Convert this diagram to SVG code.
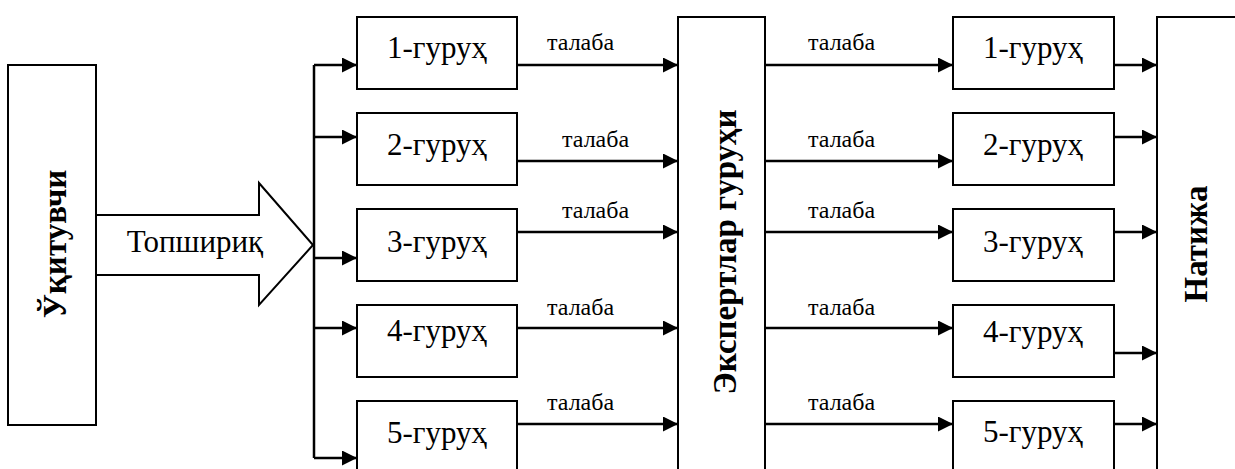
<svg xmlns="http://www.w3.org/2000/svg" width="1235" height="469" viewBox="0 0 1235 469">
<defs>
<marker id="ah" markerUnits="userSpaceOnUse" markerWidth="16" markerHeight="16" refX="15" refY="7.5" orient="auto">
<path d="M0,0 L15,7.5 L0,15 z" fill="#000"/>
</marker>
</defs>
<rect width="1235" height="469" fill="#fff"/>
<g id="teacher">
<rect x="8" y="65" width="88" height="360" fill="#fff" stroke="#000" stroke-width="2"/>
<text font-family="Liberation Serif" font-size="33" font-weight="bold" text-anchor="middle" transform="translate(66,244) rotate(-90)">Ўқитувчи</text>
</g>
<g id="task">
<polygon points="96,215 259,215 259,183 313,245 259,305 259,275 96,275" fill="#fff" stroke="#000" stroke-width="2"/>
<text font-family="Liberation Serif" font-size="31" text-anchor="middle" x="195" y="252">Топшириқ</text>
</g>
<g id="lg1"><rect x="357" y="17" width="160" height="72" fill="#fff" stroke="#000" stroke-width="2"/><text font-family="Liberation Serif" font-size="31" text-anchor="middle" x="437" y="58">1-гуруҳ</text></g>
<g id="lg2"><rect x="357" y="113" width="160" height="72" fill="#fff" stroke="#000" stroke-width="2"/><text font-family="Liberation Serif" font-size="31" text-anchor="middle" x="437" y="155">2-гуруҳ</text></g>
<g id="lg3"><rect x="357" y="209" width="160" height="72" fill="#fff" stroke="#000" stroke-width="2"/><text font-family="Liberation Serif" font-size="31" text-anchor="middle" x="437" y="252">3-гуруҳ</text></g>
<g id="lg4"><rect x="357" y="305" width="160" height="72" fill="#fff" stroke="#000" stroke-width="2"/><text font-family="Liberation Serif" font-size="31" text-anchor="middle" x="437" y="341">4-гуруҳ</text></g>
<g id="lg5"><rect x="357" y="401" width="160" height="72" fill="#fff" stroke="#000" stroke-width="2"/><text font-family="Liberation Serif" font-size="31" text-anchor="middle" x="437" y="443">5-гуруҳ</text></g>
<g id="experts">
<rect x="678" y="17" width="87" height="470" fill="#fff" stroke="#000" stroke-width="2"/>
<text font-family="Liberation Serif" font-size="33" font-weight="bold" text-anchor="middle" transform="translate(736,252) rotate(-90)">Экспертлар гуруҳи</text>
</g>
<g id="rg1"><rect x="953" y="17" width="161" height="72" fill="#fff" stroke="#000" stroke-width="2"/><text font-family="Liberation Serif" font-size="31" text-anchor="middle" x="1033" y="58">1-гуруҳ</text></g>
<g id="rg2"><rect x="953" y="113" width="161" height="72" fill="#fff" stroke="#000" stroke-width="2"/><text font-family="Liberation Serif" font-size="31" text-anchor="middle" x="1033" y="155">2-гуруҳ</text></g>
<g id="rg3"><rect x="953" y="209" width="161" height="72" fill="#fff" stroke="#000" stroke-width="2"/><text font-family="Liberation Serif" font-size="31" text-anchor="middle" x="1033" y="252">3-гуруҳ</text></g>
<g id="rg4"><rect x="953" y="305" width="161" height="72" fill="#fff" stroke="#000" stroke-width="2"/><text font-family="Liberation Serif" font-size="31" text-anchor="middle" x="1033" y="342">4-гуруҳ</text></g>
<g id="rg5"><rect x="953" y="401" width="161" height="72" fill="#fff" stroke="#000" stroke-width="2"/><text font-family="Liberation Serif" font-size="31" text-anchor="middle" x="1033" y="442">5-гуруҳ</text></g>
<g id="result">
<rect x="1157" y="17" width="100" height="470" fill="#fff" stroke="#000" stroke-width="2"/>
<text font-family="Liberation Serif" font-size="33" font-weight="bold" text-anchor="middle" transform="translate(1207,244) rotate(-90)">Натижа</text>
</g>
<g id="connectors" fill="none" stroke="#000" stroke-width="2.5">
<path d="M314,65 V458"/>
<path d="M314,65 H357" marker-end="url(#ah)"/>
<path d="M314,137 H357" marker-end="url(#ah)"/>
<path d="M314,258 H357" marker-end="url(#ah)"/>
<path d="M314,328 H357" marker-end="url(#ah)"/>
<path d="M314,458 H357" marker-end="url(#ah)"/>
<path d="M517,65 H678" marker-end="url(#ah)"/>
<path d="M517,161 H678" marker-end="url(#ah)"/>
<path d="M517,232 H678" marker-end="url(#ah)"/>
<path d="M517,328 H678" marker-end="url(#ah)"/>
<path d="M517,424 H678" marker-end="url(#ah)"/>
<path d="M765,65 H953" marker-end="url(#ah)"/>
<path d="M765,161 H953" marker-end="url(#ah)"/>
<path d="M765,232 H953" marker-end="url(#ah)"/>
<path d="M765,328 H953" marker-end="url(#ah)"/>
<path d="M765,424 H953" marker-end="url(#ah)"/>
<path d="M1114,65 H1157" marker-end="url(#ah)"/>
<path d="M1114,137 H1157" marker-end="url(#ah)"/>
<path d="M1114,232 H1157" marker-end="url(#ah)"/>
<path d="M1114,353 H1157" marker-end="url(#ah)"/>
<path d="M1114,424 H1157" marker-end="url(#ah)"/>
</g>
<g id="labels" fill="#000" stroke="none">
<text font-family="Liberation Serif" font-size="24" x="547" y="50">талаба</text>
<text font-family="Liberation Serif" font-size="24" x="562" y="147">талаба</text>
<text font-family="Liberation Serif" font-size="24" x="562" y="218">талаба</text>
<text font-family="Liberation Serif" font-size="24" x="547" y="315">талаба</text>
<text font-family="Liberation Serif" font-size="24" x="547" y="410">талаба</text>
<text font-family="Liberation Serif" font-size="24" x="808" y="50">талаба</text>
<text font-family="Liberation Serif" font-size="24" x="808" y="147">талаба</text>
<text font-family="Liberation Serif" font-size="24" x="808" y="218">талаба</text>
<text font-family="Liberation Serif" font-size="24" x="808" y="315">талаба</text>
<text font-family="Liberation Serif" font-size="24" x="808" y="410">талаба</text>
</g>
</svg>
